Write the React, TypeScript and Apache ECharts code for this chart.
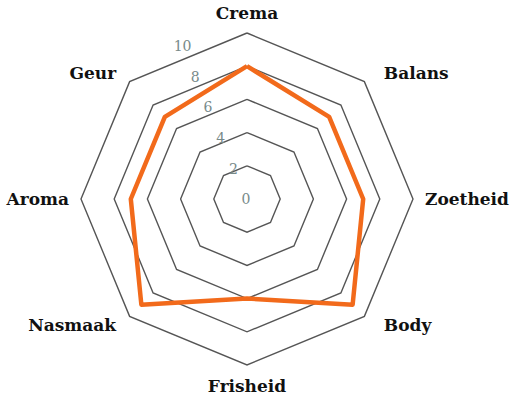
import { useEffect, useRef } from 'react';
import * as echarts from 'echarts';

// counter-clockwise from the top, as echarts lays radar indicators out
const indicators = ['Crema', 'Geur', 'Aroma', 'Nasmaak', 'Frisheid', 'Body', 'Zoetheid', 'Balans'];
const scores = [8, 7, 7, 9, 6, 9, 7, 7];
const maxScore = 10;
const tickStep = 2;

const leftDiagonal = ['Geur', 'Nasmaak'];
const rightDiagonal = ['Balans', 'Body'];

const serif = '"DejaVu Serif", "Liberation Serif", serif';

export default function App() {
  const ref = useRef<HTMLDivElement>(null);

  useEffect(() => {
    if (!ref.current) return;
    const chart = echarts.init(ref.current, undefined, { renderer: 'svg' });
    const nameStyle = { color: '#111', fontFamily: serif, fontWeight: 'bold', fontSize: 17 };
    chart.setOption({
      animation: false,
      backgroundColor: '#fff',
      radar: {
        center: [247, 199],
        radius: 166,
        startAngle: 90,
        splitNumber: maxScore / tickStep,
        shape: 'polygon',
        indicator: indicators.map((name) => ({ name, min: 0, max: maxScore })),
        axisName: {
          ...nameStyle,
          formatter: (name: string) => {
            if (leftDiagonal.includes(name)) return `{l|${name}}`;
            if (rightDiagonal.includes(name)) return `{r|${name}}`;
            return name;
          },
          rich: {
            l: { ...nameStyle, padding: [0, 5, 0, 0] },
            r: { ...nameStyle, padding: [0, 0, 0, 11] },
          },
        },
        nameGap: 12,
        axisLine: { show: false },
        axisTick: { show: false },
        axisLabel: { show: false },
        splitArea: { show: false },
        splitLine: { lineStyle: { color: '#555', width: 1.4 } },
      },
      // only used to place the tick labels between Crema and Geur
      polar: { center: [247, 199], radius: 166 },
      angleAxis: {
        type: 'value',
        startAngle: 112.5,
        min: 0,
        max: 360,
        show: false,
      },
      radiusAxis: {
        type: 'value',
        min: 0,
        max: maxScore,
        interval: tickStep,
        axisLine: { show: false },
        axisTick: { show: false },
        splitLine: { show: false },
        axisLabel: {
          color: '#778a8a',
          fontFamily: serif,
          fontSize: 14,
          margin: 1,
          align: 'center',
        },
      },
      series: [
        {
          type: 'radar',
          symbol: 'none',
          lineStyle: { color: '#f26a1b', width: 4.5 },
          itemStyle: { color: '#f26a1b' },
          data: [{ value: scores, name: 'Score' }],
        },
      ],
    });
    return () => chart.dispose();
  }, []);

  return <div ref={ref} style={{ position: 'fixed', left: 0, top: 0, width: 512, height: 403 }} />;
}
